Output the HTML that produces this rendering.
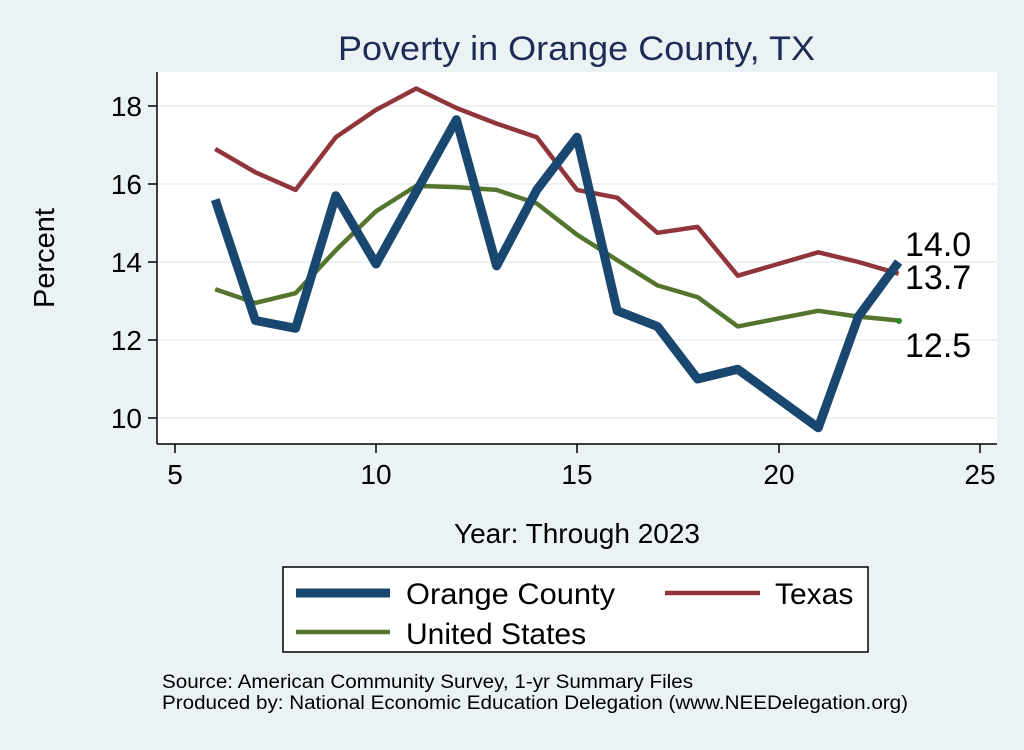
<!DOCTYPE html>
<html><head><style>body{margin:0;background:#eaf2f3}</style></head><body>
<svg width="1024" height="745" xmlns="http://www.w3.org/2000/svg" font-family="Liberation Sans, Arial, sans-serif">
<rect width="1024" height="745" fill="#eaf2f3"/>
<rect x="157" y="72" width="840" height="372" fill="#fff"/>
<g stroke="#eaf2f3" stroke-width="2">
<line x1="158" x2="997" y1="106" y2="106"/><line x1="158" x2="997" y1="184" y2="184"/><line x1="158" x2="997" y1="262" y2="262"/><line x1="158" x2="997" y1="340" y2="340"/><line x1="158" x2="997" y1="418" y2="418"/>
</g>
<g stroke="#000" stroke-width="1.5">
<line x1="157" x2="157" y1="72" y2="444"/><line x1="157" x2="997" y1="444" y2="444"/>
<line x1="148" x2="157" y1="106" y2="106"/><line x1="148" x2="157" y1="184" y2="184"/><line x1="148" x2="157" y1="262" y2="262"/><line x1="148" x2="157" y1="340" y2="340"/><line x1="148" x2="157" y1="418" y2="418"/>
<line x1="175" x2="175" y1="444" y2="453"/><line x1="376" x2="376" y1="444" y2="453"/><line x1="577" x2="577" y1="444" y2="453"/><line x1="779" x2="779" y1="444" y2="453"/><line x1="980" x2="980" y1="444" y2="453"/>
</g>
<g font-size="28" text-anchor="end">
<text x="142" y="116">18</text><text x="142" y="194">16</text><text x="142" y="272">14</text><text x="142" y="350">12</text><text x="142" y="428">10</text>
</g>
<g font-size="28" text-anchor="middle">
<text x="175" y="484">5</text><text x="376" y="484">10</text><text x="577" y="484">15</text><text x="779" y="484">20</text><text x="980" y="484">25</text>
<text x="577" y="543">Year: Through 2023</text>
</g>
<text transform="translate(54,258) rotate(-90)" font-size="29" text-anchor="middle">Percent</text>
<text x="338" y="60" font-size="34" fill="#1e2b55" textLength="477" lengthAdjust="spacingAndGlyphs">Poverty in Orange County, TX</text>
<g fill="none" stroke-linejoin="round">
<polyline stroke="#90353b" stroke-width="4.5" points="215.2,148.9 255.4,172.3 295.6,189.9 335.8,137.2 376,109.9 416.2,88.5 456.4,108 496.6,123.6 536.8,137.2 577,189.9 617.2,197.7 657.4,232.8 697.6,226.9 737.8,275.7 778,264 818.2,252.3 858.4,262 898.6,273.7"/>
<polyline stroke="#55752f" stroke-width="4.5" points="215.2,289.3 255.4,302.9 295.6,293.2 335.8,250.3 376,211.3 416.2,185.9 456.4,187.1 496.6,189.9 536.8,203.5 577,234.7 617.2,260.1 657.4,285.4 697.6,297.1 737.8,326.4 778,318.6 818.2,310.8 858.4,316.6 898.6,320.5"/>
<polyline stroke="#1a476f" stroke-width="9" points="215.2,199.6 255.4,320.5 295.6,328.3 335.8,195.7 376,264 416.2,191.8 456.4,119.7 496.6,265.9 536.8,189.9 577,137.2 617.2,310.8 657.4,326.4 697.6,379 737.8,369.3 778,398.5 818.2,427.8 858.4,316.6 898.6,262"/>
</g>
<circle cx="899" cy="321" r="3" fill="#2a8a2a"/>
<g font-size="34">
<text x="905" y="256">14.0</text><text x="905" y="289">13.7</text><text x="905" y="357">12.5</text>
</g>
<rect x="283" y="567" width="585" height="85" fill="#fff" stroke="#000" stroke-width="1.5"/>
<line x1="296" x2="390" y1="593" y2="593" stroke="#1a476f" stroke-width="9"/>
<line x1="665" x2="760" y1="593" y2="593" stroke="#90353b" stroke-width="4.5"/>
<line x1="296" x2="390" y1="632" y2="632" stroke="#55752f" stroke-width="4.5"/>
<g font-size="30">
<text x="406" y="604" textLength="209" lengthAdjust="spacingAndGlyphs">Orange County</text><text x="775" y="604">Texas</text><text x="406" y="644">United States</text>
</g>
<g font-size="19">
<text x="162" y="688" textLength="531" lengthAdjust="spacingAndGlyphs">Source: American Community Survey, 1-yr Summary Files</text>
<text x="162" y="709" textLength="746" lengthAdjust="spacingAndGlyphs">Produced by: National Economic Education Delegation (www.NEEDelegation.org)</text>
</g>
</svg>
</body></html>
